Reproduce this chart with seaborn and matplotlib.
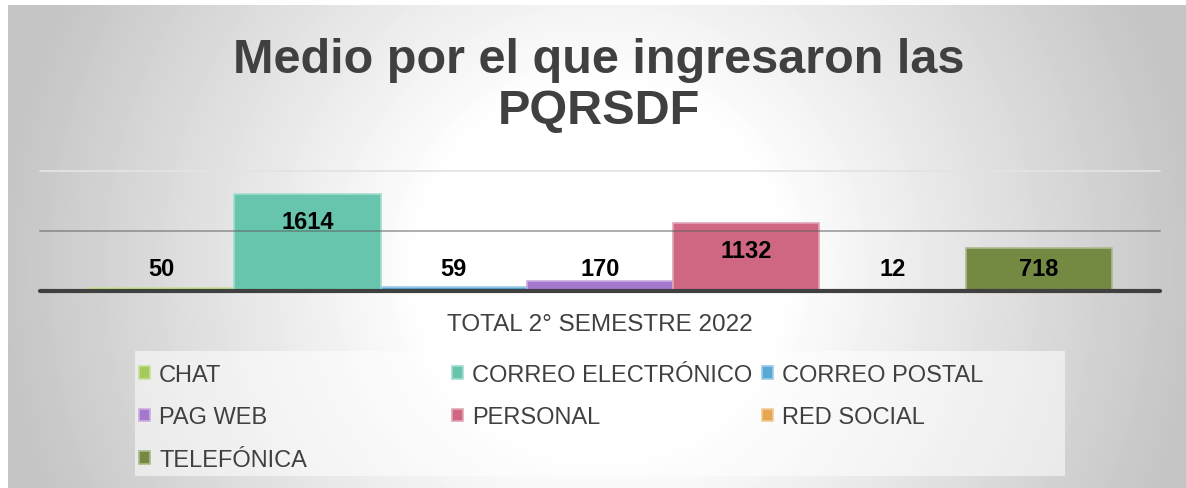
import numpy as np
import pandas as pd
import matplotlib
matplotlib.use("Agg")
import matplotlib.pyplot as plt
from matplotlib.patches import Rectangle
from matplotlib.colors import to_rgb
import seaborn as sns

periodo = ["TOTAL 2° SEMESTRE 2022"]
medios = ["CHAT", "CORREO ELECTRÓNICO", "CORREO POSTAL", "PAG WEB",
          "PERSONAL", "RED SOCIAL", "TELEFÓNICA"]
cantidades = [50, 1614, 59, 170, 1132, 12, 718]
colores = ["#a5c95a", "#67c5ae", "#5aa8d5", "#a678cd",
           "#cf6783", "#e7a752", "#748a42"]

df = pd.DataFrame({
    "periodo": periodo * len(medios),
    "medio": medios,
    "cantidad": cantidades,
})


def aclarar(c, f=0.4):
    r, g, b = to_rgb(c)
    return (r + (1 - r) * f, g + (1 - g) * f, b + (1 - b) * f)


sns.set_theme(style="white")
plt.rcParams["font.family"] = ["Liberation Sans", "DejaVu Sans"]

W, H = 1186, 489
fig = plt.figure(figsize=(W / 100, H / 100), dpi=100, facecolor="white")

# fondo con degradado radial (blanco al centro, gris en los bordes)
bg = fig.add_axes([8 / W, 0, 1 - 8 / W, 1 - 6 / H], zorder=-1)
yy, xx = np.mgrid[6:H, 8:W]
d = np.hypot((xx - 600) / 600, (yy - 270) / 600)
t = np.clip((d - 0.3) / 0.7, 0, 1)
shade = 1 - t * (1 - 0.77)
bg.imshow(shade, cmap="gray", vmin=0, vmax=1, aspect="auto", interpolation="bilinear")
bg.axis("off")

# recuadro de la leyenda
fig.patches.append(Rectangle((135 / W, 1 - 477 / H), 930 / W, 125 / H,
                             transform=fig.transFigure, facecolor="white",
                             alpha=0.55, edgecolor="none", zorder=0))

ax = fig.add_axes([40 / W, 1 - 292 / H, 1120 / W, 120 / H])
ax.patch.set_alpha(0)
sns.barplot(data=df, x="periodo", y="cantidad", hue="medio", palette=colores,
            saturation=1, width=0.914, ax=ax, legend=False, linewidth=1.2)

for cont, c in zip(ax.containers, colores):
    for bar in cont:
        bar.set_edgecolor(aclarar(c))
        xc = bar.get_x() + bar.get_width() / 2
        h = bar.get_height()
        ax.text(xc, max(h - 460, 370), f"{h:.0f}", ha="center", va="center",
                fontsize=17, fontweight="bold", color="black")

ax.set_xlim(-0.5, 0.5)
ax.set_ylim(0, 2000)
ax.axhline(1000, color="#606060", lw=1.3, alpha=0.55, zorder=2, clip_on=False)
ax.axhline(2000, color="#e3e3e3", lw=1.3, zorder=0.5, clip_on=False)
ax.axhline(0, color="#404040", lw=3, zorder=3, clip_on=False)
sns.despine(ax=ax, left=True, bottom=True)
ax.set_yticks([])
ax.set_xlabel("")
ax.set_ylabel("")
ax.tick_params(axis="x", length=0, pad=16, labelsize=17.5, labelcolor="#404040")

fig.text(599 / W, 1 - 86 / H, "Medio por el que ingresaron las\nPQRSDF",
         ha="center", va="center", fontsize=35, fontweight="bold",
         color="#404040", linespacing=1.18)

# leyenda en tres columnas, ordenada por filas como en el original
columnas = [[0, 3, 6], [1, 4], [2, 5]]
xs = [139, 452, 762]
for col, x0 in zip(columnas, xs):
    handles = [ax.containers[i][0] for i in col]
    labels = [medios[i] for i in col]
    fig.legend(handles, labels, loc="upper left",
               bbox_to_anchor=(x0 / W, 1 - 365 / H), frameon=False,
               fontsize=17, handlelength=0.45, handleheight=0.45,
               handletextpad=0.4, labelspacing=0.86, borderpad=0,
               borderaxespad=0, labelcolor="#404040")

fig.savefig("out.png", dpi=100, facecolor="white")
